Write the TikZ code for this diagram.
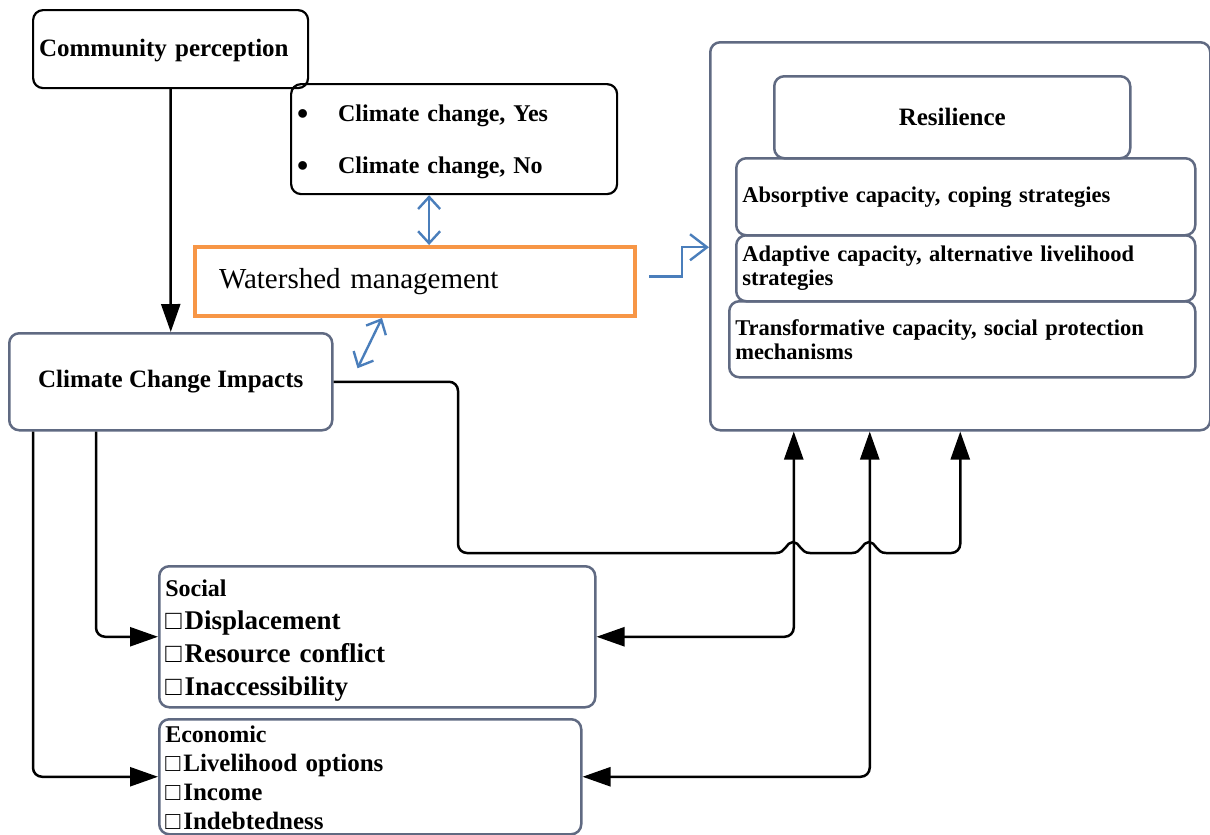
\documentclass[tikz,border=0pt]{standalone}
\usepackage{fontspec}
\setmainfont{Liberation Serif}
\usetikzlibrary{arrows.meta, positioning, calc}
\definecolor{slate}{RGB}{96,106,130}
\definecolor{wsorange}{RGB}{247,150,70}
\definecolor{wsblue}{RGB}{74,126,187}
\newcommand{\fs}[2]{\fontsize{#1}{#2}\selectfont}
\newcommand{\sqitem}{□\hspace{3pt}}
\newcommand{\bigbullet}{\makebox[41pt][l]{\raisebox{-2.5pt}{\fontsize{32}{52}\selectfont\textbullet}}}

\begin{document}
\begin{tikzpicture}[x=1pt, y=-1pt,
  blkbox/.style={draw=black, line width=2.2pt, rounded corners=10pt, anchor=north west, inner xsep=6pt, inner ysep=0pt, align=left},
  grybox/.style={draw=slate, line width=2.5pt, rounded corners=10pt, anchor=north west, inner xsep=6pt, inner ysep=0pt},
  conn/.style={draw=black, line width=2.5pt, rounded corners=9pt, -{Triangle[length=28pt, width=19pt]}},
  conntwo/.style={conn, {Triangle[length=28pt, width=19pt]}-{Triangle[length=28pt, width=19pt]}},
  bluarrow/.style={draw=wsblue, line width=2.4pt, {Straight Barb[length=12pt, width=22pt]}-{Straight Barb[length=12pt, width=22pt]}},
]
\useasboundingbox (0,0) rectangle (1210,835);

% Left column
\node[blkbox, minimum width=275pt, minimum height=78pt, text width=263pt, font=\fs{25}{30}\bfseries] (percep) at (32,9) {\rule{0pt}{20pt}Community perception};
\node[blkbox, minimum width=326pt, minimum height=110pt, text width=314pt, font=\fs{24}{52}\bfseries] (ccbox) at (290,83)
  {\rule{0pt}{23pt}\bigbullet Climate change, Yes\\\bigbullet Climate change, No};
\node[draw=wsorange, line width=4pt, anchor=north west, minimum width=440pt, minimum height=69pt, inner xsep=24pt, inner ysep=0pt, text width=392pt, align=left, font=\fs{29}{34}] (water) at (193,245) {Watershed management};
\node[grybox, minimum width=323pt, minimum height=97pt, font=\fs{25}{30}\bfseries] (impacts) at (8,332) {Climate Change Impacts};

% Resilience block
\node[grybox, minimum width=500pt, minimum height=388pt] (resil) at (709,41) {};
\node[grybox, minimum width=356pt, minimum height=82pt, font=\fs{25}{30}\bfseries] (restitle) at (773,75) {Resilience};
\node[grybox, minimum width=459pt, minimum height=77pt, text width=447pt, align=left, font=\fs{22.5}{24}\bfseries] (absorb) at (735,157) {Absorptive capacity, coping strategies};
\node[grybox, minimum width=459pt, minimum height=66pt, text width=447pt, align=left, font=\fs{22.5}{24}\bfseries] (adapt) at (735,234) {Adaptive capacity, alternative livelihood\\strategies};
\node[grybox, minimum width=466pt, minimum height=76pt, text width=454pt, align=left, font=\fs{22.5}{24}\bfseries] (transf) at (728,300) {Transformative capacity, social protection\\mechanisms};

% Impact categories
\node[grybox, minimum width=436pt, minimum height=141pt, text width=424pt, align=left, font=\fs{27}{33}\bfseries] (social) at (158,565)
  {{\fs{24}{33}\rule{0pt}{25pt}Social}\\\sqitem Displacement\\\sqitem Resource conflict\\\sqitem Inaccessibility};
\node[grybox, minimum width=422pt, minimum height=115pt, text width=410pt, align=left, font=\fs{25}{29}\bfseries] (econ) at (158,718)
  {{\fs{24}{29}\rule{0pt}{19pt}Economic}\\\sqitem Livelihood options\\\sqitem Income\\\sqitem Indebtedness};

% Connectors
\draw[conn] (percep.south) -- (impacts.north);
\draw[conn] ([xshift=88pt]impacts.south west) |- (social.west);
\draw[conn] ([xshift=25pt]impacts.south west) |- (econ.west);
\draw[conntwo] (social.east) -| ([xshift=-166.5pt]resil.south);
\draw[conntwo] (econ.east) -| ([xshift=-90.5pt]resil.south);

% Impacts to resilience, jumping over the two risers
\draw[black, line width=2.5pt, rounded corners=9pt] (impacts.east) -| (458,553) -- (776,553);
\draw[black, line width=2.5pt] (776,553) .. controls (786,553) and (786,542) .. (793,542)
  .. controls (800,542) and (800,553) .. (810,553) -- (852,553)
  .. controls (862,553) and (862,542) .. (869,542)
  .. controls (876,542) and (876,553) .. (886,553);
\draw[conn] (886,553) -| (resil.south);

% Watershed links
\draw[bluarrow] ([xshift=-25pt]ccbox.south) -- ([xshift=-25pt]ccbox.south |- water.north);
\draw[bluarrow] ([xshift=-33pt]water.south) -- ([xshift=24pt, yshift=13.5pt]impacts.east);
\draw[draw=wsblue, line width=2.4pt, -{Straight Barb[length=17pt, width=26pt]}] ([xshift=12pt, yshift=5pt]water.east) -- ++(33,0) |- ([yshift=-11pt]resil.west);
\end{tikzpicture}
\end{document}
